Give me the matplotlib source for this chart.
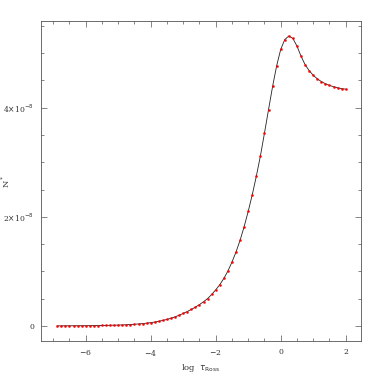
import numpy as np
import matplotlib
matplotlib.use("Agg")
import matplotlib.pyplot as plt
from matplotlib.ticker import MultipleLocator, FixedLocator

# log tau_Ross grid
log_tau = np.arange(-6.875, 2.0001, 0.125)

# N* values in units of 1e-8
n_star = [
    0.000, 0.000, 0.001, 0.001, 0.002, 0.002, 0.003, 0.003,
    0.004, 0.005, 0.006, 0.007, 0.008, 0.010, 0.012, 0.014,
    0.017, 0.020, 0.024, 0.029, 0.035, 0.042, 0.050, 0.059,
    0.070, 0.084, 0.100, 0.118, 0.140, 0.166, 0.195, 0.228,
    0.263, 0.302, 0.343, 0.390, 0.442, 0.500, 0.575, 0.660,
    0.755, 0.870, 1.005, 1.170, 1.355, 1.570, 1.820, 2.100,
    2.405, 2.745, 3.115, 3.535, 3.965, 4.390, 4.770, 5.070,
    5.250, 5.315, 5.270, 5.130, 4.945, 4.790, 4.680, 4.595,
    4.530, 4.480, 4.440, 4.410, 4.385, 4.365, 4.350, 4.340,
]

y = np.array(n_star) * 1e-8

fig = plt.figure(figsize=(3.82, 3.82), dpi=100)
ax = fig.add_axes([0.107, 0.107, 0.838, 0.838])

ax.plot(log_tau, y, color="#222222", lw=0.6, zorder=2)
ax.plot(log_tau, y, ls="none", marker="o", ms=1.5, mfc="red", mec="red", mew=0.3, zorder=3)

ax.set_xlim(-7.38, 2.47)
ax.set_ylim(-0.28e-8, 5.59e-8)

ax.set_xticks([-6, -4, -2, 0, 2])
ax.set_xticklabels([r"$-$6", r"$-$4", r"$-$2", "0", "2"])
ax.xaxis.set_minor_locator(MultipleLocator(0.5))
ax.yaxis.set_major_locator(FixedLocator([0, 2e-8, 4e-8]))
ax.yaxis.set_minor_locator(MultipleLocator(0.5e-8))
ax.set_yticklabels(["0", r"2$\times$10$^{-8}$", r"4$\times$10$^{-8}$"])

tc = "#555555"
for s in ax.spines.values():
    s.set_color(tc)
    s.set_linewidth(0.6)
ax.tick_params(which="both", direction="in", top=True, right=True, colors=tc,
               labelcolor="#333333", labelsize=5.5, width=0.5, pad=5)
ax.tick_params(which="major", length=4.5)
ax.tick_params(which="minor", length=2.2)
for lab in ax.get_xticklabels() + ax.get_yticklabels():
    lab.set_family("DejaVu Serif")

ax.set_xlabel(r"log  $\tau_{\rm Ross}$", fontsize=6, color="#333333", family="DejaVu Serif", labelpad=3)
ax.set_ylabel(r"N$^*$", fontsize=6, color="#333333", family="DejaVu Serif")
ax.yaxis.set_label_coords(-0.09, 0.5)

fig.savefig("out.png", dpi=100)
